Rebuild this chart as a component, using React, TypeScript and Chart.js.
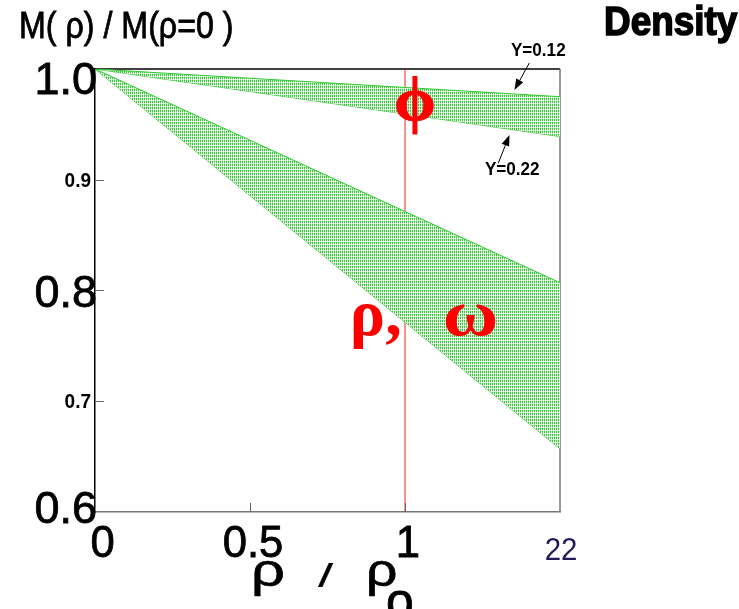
import { useEffect, useRef } from "react";
import { Chart, registerables } from "chart.js";

Chart.register(...registerables);

// Density dependence of vector-meson masses, M(rho)/M(rho=0), for Y = 0.12 and Y = 0.22
const rho = [0, 1.5];
const phiY012 = [1.0, 0.975];
const phiY022 = [1.0, 0.939];
const rhoOmegaY012 = [1.0, 0.807];
const rhoOmegaY022 = [1.0, 0.657];

// normal nuclear density marker
const normalDensityX = [1, 1];
const normalDensityY = [0.6, 1.0];

const xTickValues = [0, 0.5, 1];
const xTickLabels = ["0", "0.5", "1"];
const yMajorValues = [1.0, 0.8, 0.6];
const yMajorLabels = ["1.0", "0.8", "0.6"];
const yMinorValues = [0.9, 0.7];
const yMinorLabels = ["0.9", "0.7"];
const pageNumber = "22";

const toPoints = (xs: number[], ys: number[]) => xs.map((x, i) => ({ x, y: ys[i] }));

function makeStipple(): CanvasPattern | string {
  const tile = document.createElement("canvas");
  tile.width = 2;
  tile.height = 3;
  const t = tile.getContext("2d");
  if (!t) return "rgba(150,220,150,0.6)";
  const G = "rgb(60,200,60)";
  const L = "rgb(195,238,195)";
  const W = "rgb(255,255,255)";
  const cells = [
    [G, W],
    [L, W],
    [G, L],
  ];
  cells.forEach((row, y) =>
    row.forEach((c, x) => {
      t.fillStyle = c;
      t.fillRect(x, y, 1, 1);
    })
  );
  const ctx = document.createElement("canvas").getContext("2d");
  return (ctx && ctx.createPattern(tile, "repeat")) || "rgba(150,220,150,0.6)";
}

function drawText(
  ctx: CanvasRenderingContext2D,
  text: string,
  x: number,
  y: number,
  font: string,
  color: string,
  align: CanvasTextAlign = "left",
  scaleX = 1,
  stroke = 0
) {
  ctx.save();
  ctx.font = font;
  ctx.fillStyle = color;
  ctx.strokeStyle = color;
  ctx.textBaseline = "alphabetic";
  ctx.translate(x, y);
  ctx.scale(scaleX, 1);
  ctx.textAlign = align;
  ctx.fillText(text, 0, 0);
  if (stroke > 0) {
    ctx.lineWidth = stroke / scaleX;
    ctx.strokeText(text, 0, 0);
  }
  ctx.restore();
}

function arrow(ctx: CanvasRenderingContext2D, x1: number, y1: number, x2: number, y2: number) {
  const ang = Math.atan2(y2 - y1, x2 - x1);
  const head = 11;
  const half = 4;
  const bx = x2 - head * Math.cos(ang);
  const by = y2 - head * Math.sin(ang);
  ctx.save();
  ctx.strokeStyle = "#000";
  ctx.fillStyle = "#000";
  ctx.lineWidth = 1;
  ctx.beginPath();
  ctx.moveTo(x1, y1);
  ctx.lineTo(bx, by);
  ctx.stroke();
  ctx.beginPath();
  ctx.moveTo(x2, y2);
  ctx.lineTo(bx + half * Math.sin(ang), by - half * Math.cos(ang));
  ctx.lineTo(bx - half * Math.sin(ang), by + half * Math.cos(ang));
  ctx.closePath();
  ctx.fill();
  ctx.restore();
}

const SANS = "'Liberation Sans', Arial, sans-serif";
const SERIF = "'Liberation Serif', 'Times New Roman', 'DejaVu Serif', serif";

const framePlugin = {
  id: "frame",
  beforeDatasetsDraw(chart: any) {
    const { ctx, chartArea } = chart;
    const { left, right, top, bottom } = chartArea;
    ctx.save();
    ctx.lineWidth = 1.5;
    ctx.strokeStyle = "#000";
    ctx.beginPath();
    ctx.moveTo(left, top);
    ctx.lineTo(right, top);
    ctx.stroke();
    ctx.strokeStyle = "#777";
    ctx.beginPath();
    ctx.moveTo(right, top);
    ctx.lineTo(right, bottom);
    ctx.stroke();
    ctx.restore();
  },
};

const labelPlugin = {
  id: "labels",
  afterDraw(chart: any) {
    const { ctx, chartArea, scales } = chart;
    const xs = scales.x;
    const ys = scales.y;
    const { left, right, top, bottom } = chartArea;
    const px = (v: number) => xs.getPixelForValue(v);
    const py = (v: number) => ys.getPixelForValue(v);

    // inner tick marks
    ctx.save();
    ctx.strokeStyle = "#666";
    ctx.lineWidth = 1;
    [...yMinorValues, 0.8].forEach((v) => {
      const y = Math.round(py(v)) + 0.5;
      ctx.beginPath();
      ctx.moveTo(left, y);
      ctx.lineTo(left + 9, y);
      ctx.stroke();
    });
    xTickValues.slice(1).forEach((v) => {
      const x = Math.round(px(v)) + 0.5;
      ctx.beginPath();
      ctx.moveTo(x, bottom);
      ctx.lineTo(x, bottom - 9);
      ctx.stroke();
    });
    ctx.restore();

    // y axis labels
    const bigFont = `45px ${SANS}`;
    yMajorValues.forEach((v, i) => {
      const c = Math.min(Math.max(py(v), top + 9), bottom - 5);
      drawText(ctx, yMajorLabels[i], left + 2, c + 16, bigFont, "#000", "right", 1.0, 0.8);
    });
    yMinorValues.forEach((v, i) => {
      drawText(ctx, yMinorLabels[i], left - 4, py(v) + 7, `bold 20px ${SANS}`, "#000", "right", 0.95);
    });

    // x axis labels
    ctx.save();
    ctx.font = bigFont;
    xTickValues.forEach((v, i) => {
      const w = ctx.measureText(xTickLabels[i]).width;
      const cx = Math.max(px(v) + 3, left + w / 2 - 5);
      drawText(ctx, xTickLabels[i], cx, bottom + 45, bigFont, "#000", "center", 0.97, 0.8);
    });
    ctx.restore();
    drawText(ctx, pageNumber, right + 1, bottom + 48, `32px ${SANS}`, "#231a5e", "center", 0.92);

    // x axis title: rho / rho_0
    drawText(ctx, "ρ", 251, 586, `46px ${SANS}`, "#000", "left", 1.3, 0.8);
    drawText(ctx, "/", 318, 587, `34px ${SANS}`, "#000", "left", 1.6, 0.3);
    drawText(ctx, "ρ", 366, 586, `46px ${SANS}`, "#000", "left", 1.2, 0.8);
    drawText(ctx, "o", 386, 618, `50px ${SANS}`, "#000", "left", 1.0, 0.8);

    // y axis title and heading
    drawText(ctx, "M( ρ) / M(ρ=0 )", 19, 38, `37px ${SANS}`, "#000", "left", 0.87, 0.7);
    drawText(ctx, "Density", 604, 35, `bold 41px ${SANS}`, "#000", "left", 0.9, 1.4);

    // band annotations
    drawText(ctx, "Y=0.12", px(1.43), py(1.0185) + 7, `bold 18px ${SANS}`, "#000", "center", 0.95);
    arrow(ctx, px(1.401), py(1.0054), px(1.353), py(0.981));
    drawText(ctx, "Y=0.22", px(1.346), py(0.911) + 7, `bold 18px ${SANS}`, "#000", "center", 0.95);
    arrow(ctx, px(1.301), py(0.915), px(1.337), py(0.9405));

    // meson labels
    drawText(ctx, "ϕ", px(1.032), py(0.954), `bold 64px ${SERIF}`, "#f00", "center", 1.05, 0.8);
    drawText(ctx, "ρ,", px(0.822), py(0.76), `bold 66px ${SERIF}`, "#f00", "left", 1.0);
    drawText(ctx, "ω", px(1.122), py(0.76), `bold 66px ${SERIF}`, "#f00", "left", 1.15);
  },
};

export default function App() {
  const canvasRef = useRef<HTMLCanvasElement | null>(null);

  useEffect(() => {
    document.body.style.margin = "0";
    const canvas = canvasRef.current;
    if (!canvas) return;
    const stipple = makeStipple();
    const edge = "rgb(50,200,50)";
    const chart = new Chart(canvas, {
      type: "line",
      data: {
        datasets: [
          {
            label: "phi Y=0.12",
            data: toPoints(rho, phiY012),
            borderColor: edge,
            borderWidth: 1,
            pointRadius: 0,
            backgroundColor: stipple as any,
            fill: "+1",
          },
          {
            label: "phi Y=0.22",
            data: toPoints(rho, phiY022),
            borderColor: edge,
            borderWidth: 1,
            pointRadius: 0,
            fill: false,
          },
          {
            label: "rho/omega Y=0.12",
            data: toPoints(rho, rhoOmegaY012),
            borderColor: edge,
            borderWidth: 1,
            pointRadius: 0,
            backgroundColor: stipple as any,
            fill: "+1",
          },
          {
            label: "rho/omega Y=0.22",
            data: toPoints(rho, rhoOmegaY022),
            borderColor: edge,
            borderWidth: 1,
            pointRadius: 0,
            fill: false,
          },
          {
            label: "normal density",
            data: toPoints(normalDensityX, normalDensityY),
            borderColor: "#ff2020",
            borderWidth: 1,
            pointRadius: 0,
            fill: false,
          },
        ],
      },
      options: {
        animation: false,
        responsive: false,
        events: [],
        layout: { padding: { left: 95, top: 69, right: 179, bottom: 97 } },
        plugins: { legend: { display: false }, tooltip: { enabled: false }, title: { display: false } },
        scales: {
          x: {
            type: "linear",
            min: 0,
            max: 1.5,
            grid: { display: false, drawTicks: false },
            ticks: { display: false },
            border: { display: true, color: "#777", width: 1.5 },
          },
          y: {
            type: "linear",
            min: 0.6,
            max: 1.0,
            grid: { display: false, drawTicks: false },
            ticks: { display: false },
            border: { display: true, color: "#000", width: 1.5 },
          },
        },
      },
      plugins: [framePlugin, labelPlugin],
    });
    return () => chart.destroy();
  }, []);

  return (
    <div style={{ width: 739, height: 609, background: "#fff" }}>
      <canvas ref={canvasRef} width={739} height={609} style={{ display: "block" }} />
    </div>
  );
}
